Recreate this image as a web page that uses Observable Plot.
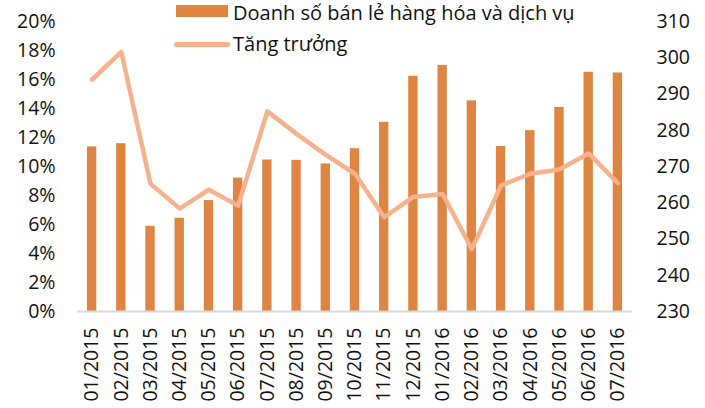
<!DOCTYPE html>
<html>
<head>
<meta charset="utf-8">
<script src="https://cdn.jsdelivr.net/npm/d3@7"></script>
<script src="https://cdn.jsdelivr.net/npm/@observablehq/plot@0.6"></script>
<style>
  html, body { margin: 0; padding: 0; background: #fff; }
  #wrap { position: relative; width: 705px; height: 408px; font-family: "Open Sans", sans-serif; }
  .leg { position: absolute; font-size: 20px; color: #111; line-height: 26px; white-space: nowrap; }
  .sw { position: absolute; }
</style>
</head>
<body>
<div id="wrap">
  <div id="chart"></div>
  <div class="sw" style="left:176px;top:5px;width:52px;height:12px;background:#DE8542"></div>
  <div class="leg" style="left:233px;top:0px">Doanh số bán lẻ hàng hóa và dịch vụ</div>
  <div class="sw" style="left:174px;top:42px;width:56px;height:5px;border-radius:3px;background:#F6B28C"></div>
  <div class="leg" style="left:233px;top:31px">Tăng trưởng</div>
</div>
<script>
const months = ["01/2015","02/2015","03/2015","04/2015","05/2015","06/2015","07/2015","08/2015","09/2015","10/2015","11/2015","12/2015","01/2016","02/2016","03/2016","04/2016","05/2016","06/2016","07/2016"];
const sales = [275.4, 276.3, 253.5, 255.7, 260.6, 266.8, 271.8, 271.7, 270.7, 274.9, 282.2, 294.9, 297.9, 288.1, 275.5, 279.9, 286.3, 296.0, 295.8];
const growth = [16.0, 17.9, 8.8, 7.1, 8.4, 7.3, 13.8, 12.25, 10.8, 9.5, 6.5, 7.9, 8.1, 4.3, 8.7, 9.5, 9.8, 10.9, 8.85];
const leftTicks = [0, 2, 4, 6, 8, 10, 12, 14, 16, 18, 20];
const rightTicks = [230, 240, 250, 260, 270, 280, 290, 300, 310];

// right axis (230..310) mapped onto left axis (0..20%)
const r0 = 230, r1 = 310;
const toLeft = v => (v - r0) / (r1 - r0) * 20;
const fromLeft = p => r0 + p / 20 * (r1 - r0);

const data = months.map((m, i) => ({month: m, sales: sales[i], salesY: toLeft(sales[i]), growth: growth[i]}));

const chart = Plot.plot({
  width: 705,
  height: 408,
  marginLeft: 77,
  marginRight: 73,
  marginTop: 21,
  marginBottom: 97,
  style: {fontFamily: "Open Sans, sans-serif", fontSize: "19.5px", color: "#111", background: "transparent"},
  x: {domain: months, paddingInner: 0.68, paddingOuter: 0.34, round: false, label: null},
  y: {domain: [0, 20], label: null},
  marks: [
    Plot.barY(data, {x: "month", y1: 0, y2: "salesY", fill: "#DE8542"}),
    Plot.ruleY([0], {stroke: "#D9D9D9", strokeWidth: 2}),
    Plot.line(data, {x: "month", y: "growth", stroke: "#F6B28C", strokeWidth: 4.5, strokeLinejoin: "round", strokeLinecap: "round"}),
    Plot.axisY(leftTicks, {anchor: "left", tickSize: 0, tickPadding: 22, tickFormat: d => d + "%", label: null, fontSize: 19.5}),
    Plot.axisY(rightTicks.map(toLeft), {anchor: "right", tickSize: 0, tickPadding: 24, tickFormat: d => String(Math.round(fromLeft(d))), label: null, fontSize: 19.5}),
    Plot.axisX({tickSize: 0, tickPadding: 16, tickRotate: -90, label: null, fontSize: 19.5})
  ]
});
document.getElementById("chart").appendChild(chart);
</script>
</body>
</html>
